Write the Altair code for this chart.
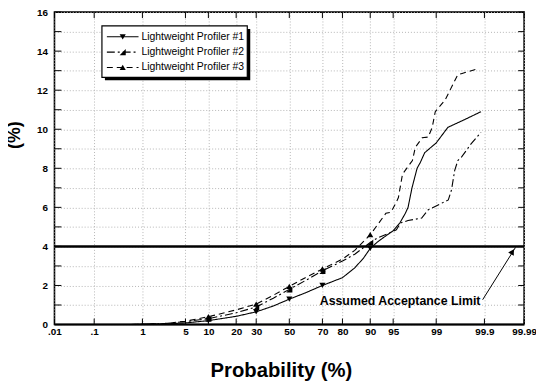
import altair as alt
import pandas as pd
from statistics import NormalDist

W, H = 475, 316
FONT = "Liberation Sans, Arial, Helvetica, sans-serif"

series_names = ["Lightweight Profiler #1", "Lightweight Profiler #2", "Lightweight Profiler #3"]

p_1 = [0.6, 2.4, 5, 10, 20, 30, 40, 50, 60, 70, 80, 85, 88, 90, 92, 94, 95, 96, 96.7, 97.0,
       97.4, 97.85, 98.1, 98.4, 99.0, 99.4, 99.7, 99.88]
v_1 = [0, 0.03, 0.08, 0.2, 0.42, 0.65, 0.95, 1.3, 1.62, 2.0, 2.4, 2.9, 3.4, 3.9, 4.25, 4.6, 4.8, 5.2, 5.7, 6.0,
       7.0, 8.0, 8.3, 8.8, 9.3, 10.1, 10.45, 10.9]

p_2 = [0.6, 2.4, 5, 10, 20, 30, 40, 50, 60, 70, 80, 85, 90, 92, 94, 95.5, 96.1, 97.0, 98.2, 98.6,
       99.41, 99.49, 99.56, 99.62, 99.68, 99.80, 99.88]
v_2 = [0, 0.05, 0.15, 0.3, 0.6, 0.9, 1.35, 1.8, 2.25, 2.75, 3.25, 3.6, 4.2, 4.45, 4.65, 4.85, 5.2, 5.33, 5.45, 5.87,
       6.38, 6.9, 7.9, 8.4, 8.57, 9.25, 9.84]

p_3 = [0.6, 2.4, 5, 10, 20, 30, 40, 50, 60, 70, 80, 85, 90, 92.2, 93.7, 94.6, 95.4, 95.8, 96.35, 97.44,
       97.7, 98.24, 98.61, 98.82, 98.96, 99.32, 99.62, 99.69, 99.86]
v_3 = [0, 0.05, 0.17, 0.4, 0.75, 1.05, 1.5, 1.95, 2.4, 2.85, 3.35, 3.8, 4.6, 5.2, 5.7, 5.75, 6.2, 6.5, 7.7, 8.4,
       9.07, 9.57, 9.6, 10.1, 10.9, 11.5, 12.8, 12.86, 13.1]

marker_p = [10, 30, 50, 70, 90]

x_tick_p = [0.01, 0.1, 1, 5, 10, 20, 30, 50, 70, 80, 90, 95, 99, 99.9, 99.99]
x_tick_labels = [".01", ".1", "1", "5", "10", "20", "30", "50", "70", "80", "90", "95", "99", "99.9", "99.99"]
y_ticks = list(range(0, 17))

limit_value = [4]
annotation_text = ["Assumed Acceptance Limit"]
annotation_p = [68.5]
annotation_v = [1.0]
arrow_p = [99.89, 99.983]
arrow_v = [1.27, 3.95]
arrowhead_p = [99.9795]
arrowhead_v = [3.73]

y_title_main = "Relative Difference"   # mostly outside the picture's left edge, as in the reference
y_title_unit = "(%)"
x_title = "Probability (%)"

# ---- tables ----
rows = []
for name, ps, vs in zip(series_names, [p_1, p_2, p_3], [v_1, v_2, v_3]):
    for p, v in zip(ps, vs):
        rows.append({"series": name, "p": p, "v": v})
df = pd.DataFrame(rows)

nd = NormalDist()
zmin = nd.inv_cdf(x_tick_p[0] / 100)
zmax = nd.inv_cdf(x_tick_p[-1] / 100)
x_tick_z = [nd.inv_cdf(p / 100) for p in x_tick_p]

# label lookup keyed by (shifted, always positive) rounded tick position
label_map = "{" + ", ".join(f"'{z + 10:.2f}': '{lab}'" for z, lab in zip(x_tick_z, x_tick_labels)) + "}"
x_label_expr = f"{label_map}[format(datum.value + 10, '.2f')]"

df_xt = pd.DataFrame({"p": x_tick_p})
df_yt = pd.DataFrame({"v": y_ticks})
df_lim = pd.DataFrame({"v": limit_value})
df_ann = pd.DataFrame({"p": annotation_p, "v": annotation_v, "t": annotation_text})
df_arrow = pd.DataFrame({"p": arrow_p, "v": arrow_v})
df_head = pd.DataFrame({"p": arrowhead_p, "v": arrowhead_v})

ZCALC = "quantileNormal(datum.p/100)"

xscale = alt.Scale(domain=[zmin, zmax], nice=False, zero=False)
yscale = alt.Scale(domain=[0, 16], nice=False, zero=False)

shape_scale = alt.Scale(domain=series_names,
                        range=["triangle-down", "M1,1L1,-1L-1,1Z", "triangle-up"])
dash_scale = alt.Scale(domain=series_names, range=[[1, 0], [8, 3, 2, 3], [6, 4]])

x_axis = alt.Axis(
    values=x_tick_z,
    labelExpr=x_label_expr,
    grid=True, gridDash=[1, 2], gridColor="#b5b5b5", gridWidth=1,
    ticks=False, domain=False, labelFlush=False, labelOverlap=False,
    labelPadding=2, labelFont=FONT, labelFontSize=10, labelFontWeight="bold", labelColor="black",
    title=x_title, titleFont=FONT, titleFontSize=20.5, titleFontWeight="bold", titleColor="black",
    titleX=229, titleY=53, titleBaseline="alphabetic",
)
y_axis = alt.Axis(
    values=y_ticks,
    labelExpr="datum.value % 2 == 0 ? datum.label : ''",
    grid=True, gridDash=[1, 2], gridColor="#b5b5b5", gridWidth=1,
    ticks=False, domain=False, labelOverlap=False,
    labelPadding=7, labelFont=FONT, labelFontSize=10, labelFontWeight="bold", labelColor="black",
    title=y_title_unit, titleFont=FONT, titleFontSize=18, titleFontWeight="bold", titleColor="black",
    titleAngle=270, titleX=-31, titleY=124, titleBaseline="bottom", titleAlign="center",
)

X = alt.X("z:Q", scale=xscale, axis=x_axis)
Y = alt.Y("v:Q", scale=yscale, axis=y_axis)

base = alt.Chart(df).transform_calculate(z=ZCALC)

lines = base.mark_line(color="black", strokeWidth=1.1).encode(
    x=X, y=Y,
    strokeDash=alt.StrokeDash("series:N", scale=dash_scale, legend=None),
    order="p:Q",
)
markers = base.transform_filter(
    alt.FieldOneOfPredicate(field="p", oneOf=marker_p)
).mark_point(filled=True, color="black", opacity=1, size=38).encode(
    x=X, y=Y, shape=alt.Shape("series:N", scale=shape_scale, legend=None)
)

limit_rule = alt.Chart(df_lim).mark_rule(color="black", strokeWidth=2.5).encode(y=Y)

# inward ticks on all four sides
xt = alt.Chart(df_xt).transform_calculate(z=ZCALC)
ticks_bottom = xt.mark_rule(color="black", strokeWidth=1).encode(x=X, y=alt.value(H), y2=alt.value(H - 6))
ticks_top = xt.mark_rule(color="black", strokeWidth=1).encode(x=X, y=alt.value(0), y2=alt.value(6))
yt = alt.Chart(df_yt)
ticks_left = yt.mark_rule(color="black", strokeWidth=1).encode(y=Y, x=alt.value(0), x2=alt.value(7))
ticks_right = yt.mark_rule(color="black", strokeWidth=1).encode(y=Y, x=alt.value(W - 6), x2=alt.value(W))

# bottom frame slightly heavier
bottom_line = alt.Chart(pd.DataFrame({"v": [0]})).mark_rule(color="black", strokeWidth=2).encode(y=Y)

# first line of the y title, which lies mostly beyond the left edge in the reference
y_title_first = alt.Chart(pd.DataFrame({"t": [y_title_main]})).mark_text(
    angle=270, align="center", baseline="bottom", font=FONT, fontSize=18, fontWeight="bold", color="black"
).encode(x=alt.value(-53), y=alt.value(124), text="t:N")

# annotation
ann_text = alt.Chart(df_ann).transform_calculate(z=ZCALC).mark_text(
    align="left", baseline="alphabetic", font=FONT, fontSize=12.5, fontWeight="bold", color="black"
).encode(x=X, y=Y, text="t:N")
arrow_line = alt.Chart(df_arrow).transform_calculate(z=ZCALC).mark_line(
    color="black", strokeWidth=1).encode(x=X, y=Y, order="p:Q")
arrow_head = alt.Chart(df_head).transform_calculate(z=ZCALC).mark_point(
    shape="triangle-up", filled=True, color="black", opacity=1, size=45, angle=31
).encode(x=X, y=Y)

# legend (manual)
one = pd.DataFrame({"a": [0]})
leg_shadow = alt.Chart(one).mark_rect(color="black").encode(
    x=alt.value(51), x2=alt.value(198), y=alt.value(17), y2=alt.value(69))
leg_box = alt.Chart(one).mark_rect(fill="white", stroke="black", strokeWidth=1.2).encode(
    x=alt.value(48), x2=alt.value(195), y=alt.value(14), y2=alt.value(66))
leg_layers = [leg_shadow, leg_box]
leg_dash = [[1, 0], [8, 3, 2, 3], [6, 4]]
leg_shapes = ["triangle-down", "M1,1L1,-1L-1,1Z", "triangle-up"]
for i, name in enumerate(series_names):
    yy = 25 + 15.5 * i
    d = pd.DataFrame({"series": [name]})
    leg_layers.append(alt.Chart(d).mark_rule(color="black", strokeWidth=1.1, strokeDash=leg_dash[i]).encode(
        x=alt.value(53), x2=alt.value(85), y=alt.value(yy)))
    leg_layers.append(alt.Chart(d).mark_point(shape=leg_shapes[i], filled=True, color="black", opacity=1,
                                              size=38).encode(x=alt.value(69), y=alt.value(yy)))
    leg_layers.append(alt.Chart(d).mark_text(align="left", baseline="middle", font=FONT, fontSize=10.5,
                                             color="black").encode(
        x=alt.value(88), y=alt.value(yy), text="series:N"))

chart = alt.layer(
    lines, limit_rule, markers, ticks_bottom, ticks_top, ticks_left, ticks_right, bottom_line,
    y_title_first, ann_text, arrow_line, arrow_head, *leg_layers
).properties(
    width=W, height=H,
    autosize=alt.AutoSizeParams(type="none"),
    padding={"left": 47, "top": 2, "right": 12, "bottom": 57},
    background="white",
).configure_view(
    stroke="black", strokeWidth=1.6
)

chart.save("out.html", embed_options={"renderer": "svg", "actions": False})
